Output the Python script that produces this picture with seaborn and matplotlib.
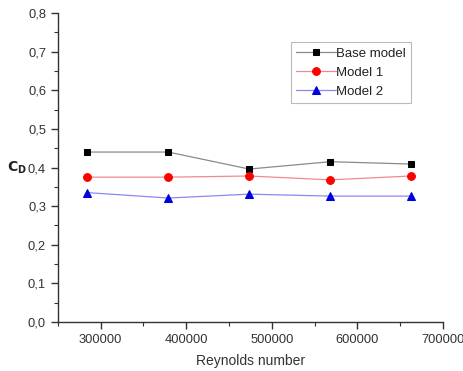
import matplotlib
matplotlib.use("Agg")
import matplotlib.pyplot as plt
import seaborn as sns
import pandas as pd
from matplotlib.ticker import MultipleLocator, FuncFormatter

reynolds = [284500, 379000, 473500, 568000, 662000]
base_model = [0.440, 0.440, 0.396, 0.415, 0.409]
model_1 = [0.375, 0.375, 0.378, 0.368, 0.378]
model_2 = [0.335, 0.321, 0.331, 0.326, 0.326]
series_names = ["Base model", "Model 1", "Model 2"]

sns.set_theme(style="ticks")
plt.rcParams['font.family'] = ['Liberation Sans', 'DejaVu Sans']

df = pd.DataFrame({
    "Re": reynolds * 3,
    "Cd": base_model + model_1 + model_2,
    "series": [series_names[0]] * 5 + [series_names[1]] * 5 + [series_names[2]] * 5,
})

fig = plt.figure(figsize=(4.63, 3.71), dpi=100)
ax = fig.add_axes([0.125, 0.132, 0.832, 0.833])

styles = {
    "Base model": dict(color="black", line="#8a8a8a", marker="s", ms=5.0),
    "Model 1": dict(color="red", line="#f08a8a", marker="o", ms=5.6),
    "Model 2": dict(color="#0000dd", line="#8a8af0", marker="^", ms=5.8),
}
for name in series_names:
    st = styles[name]
    sub = df[df["series"] == name]
    sns.lineplot(data=sub, x="Re", y="Cd", ax=ax, color=st["line"], lw=0.9,
                 marker=st["marker"], markersize=st["ms"], markerfacecolor=st["color"],
                 markeredgecolor=st["color"], label=name)

ax.set_xlim(250000, 700000)
ax.set_ylim(0.0, 0.8)
ax.xaxis.set_major_locator(MultipleLocator(100000))
ax.xaxis.set_minor_locator(MultipleLocator(50000))
ax.yaxis.set_major_locator(MultipleLocator(0.1))
ax.yaxis.set_minor_locator(MultipleLocator(0.05))
ax.xaxis.set_major_formatter(FuncFormatter(lambda v, p: f"{int(round(v))}"))
ax.yaxis.set_major_formatter(FuncFormatter(lambda v, p: f"{v:.1f}".replace(".", ",")))

for s in ["top", "right"]:
    ax.spines[s].set_visible(False)
for s in ["left", "bottom"]:
    ax.spines[s].set_color("#333333")
    ax.spines[s].set_linewidth(1.0)
ax.tick_params(which="major", length=5, width=1, color="#333333", labelsize=9.3, labelcolor="#333333", direction="out")
ax.tick_params(which="minor", length=3, width=0.8, color="#333333", direction="out")

ax.set_xlabel("Reynolds number", fontsize=10, color="#333333", labelpad=6)
ax.set_ylabel(r"$\mathbf{C_D}$", fontsize=10, color="#222222", rotation=0, labelpad=8, va="center")

leg = ax.legend(loc="upper left", bbox_to_anchor=(0.605, 0.905), frameon=True, fontsize=9.5,
                handlelength=3.0, handletextpad=0.05, borderpad=0.4, labelspacing=0.5,
                borderaxespad=0, fancybox=False, edgecolor="#aaaaaa")
leg.get_frame().set_linewidth(0.8)
for t in leg.get_texts():
    t.set_color("#222222")

fig.savefig("out.png", dpi=100)
